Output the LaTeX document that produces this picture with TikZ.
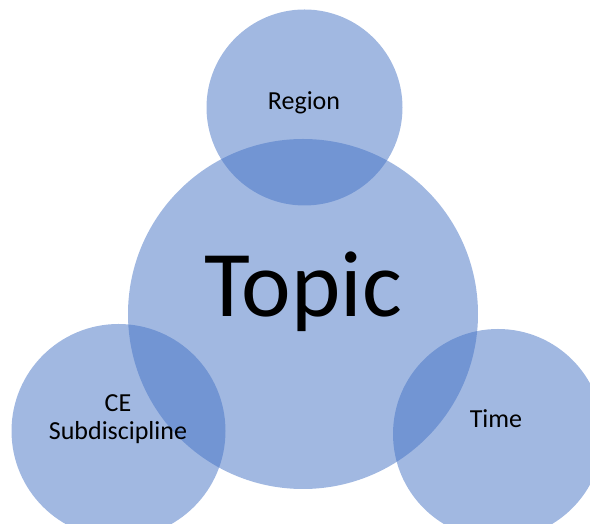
\documentclass[tikz,border=0pt]{standalone}
\usepackage{fontspec}
\setmainfont{Carlito}
\definecolor{circfill}{HTML}{4472C4}
\begin{document}
\begin{tikzpicture}[x=1pt,y=1pt,
  bubble/.style={circle, fill=circfill, fill opacity=0.5, draw=none, inner sep=0pt},
  smalltxt/.style={font=\fontsize{26}{28}\selectfont, text=black, inner sep=0pt, align=center},
  bigtxt/.style={font=\fontsize{94}{100}\selectfont, text=black, inner sep=0pt}]
  \useasboundingbox (0,0) rectangle (590,524);
  % four overlapping translucent circles
  \node[bubble, minimum size=350pt] (topic)  at (303,210) {};
  \node[bubble, minimum size=196pt] (region) at (304.5,416.5) {};
  \node[bubble, minimum size=214pt] (cesub)  at (118.5,93) {};
  \node[bubble, minimum size=210pt] (time)   at (498,90) {};
  % labels
  \node[bigtxt, anchor=base] (topiclbl) at (303,207) {Topic};
  \node[smalltxt, anchor=base] (regionlbl) at (304,414) {Region};
  \node[smalltxt, anchor=base] (timelbl) at (496,96) {Time};
  \node[smalltxt, anchor=base] (cesublbl) at (118,84) {CE\\Subdiscipline};
\end{tikzpicture}
\end{document}
